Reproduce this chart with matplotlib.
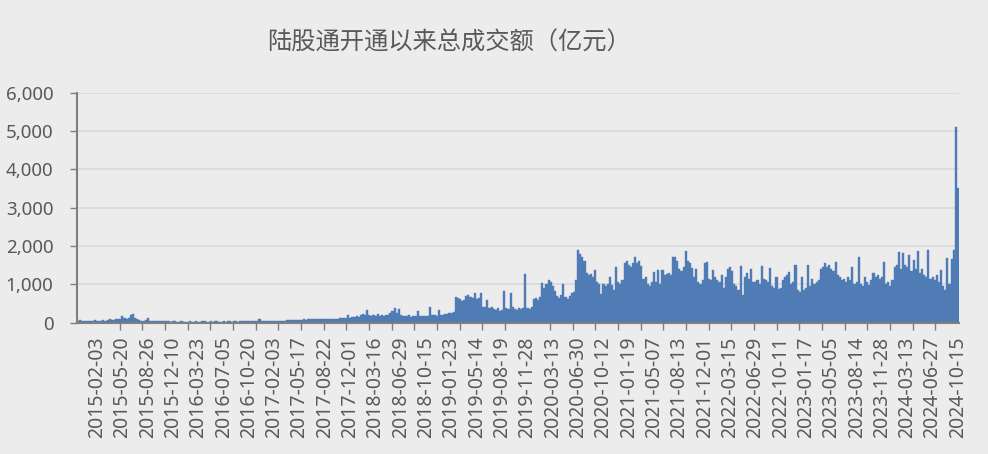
import numpy as np
import matplotlib.pyplot as plt
from matplotlib.ticker import FuncFormatter

# date labels on the category axis (one every 12 bars)
tick_dates = [
    '2015-02-03', '2015-05-20', '2015-08-26', '2015-12-10',
    '2016-03-23', '2016-07-05', '2016-10-20',
    '2017-02-03', '2017-05-17', '2017-08-22', '2017-12-01',
    '2018-03-16', '2018-06-29', '2018-10-15',
    '2019-01-23', '2019-05-14', '2019-08-19', '2019-11-28',
    '2020-03-13', '2020-06-30', '2020-10-12',
    '2021-01-19', '2021-05-07', '2021-08-13', '2021-12-01',
    '2022-03-15', '2022-06-29', '2022-10-11',
    '2023-01-17', '2023-05-05', '2023-08-14', '2023-11-28',
    '2024-03-13', '2024-06-27', '2024-10-15',
]

# turnover (100m yuan), one value per ~6 trading days
lead_in = [45, 78, 40, 35, 45, 40, 50, 45, 70]

from_2015 = [
    40, 45, 50, 60, 45, 70, 104, 80, 75, 90, 85, 95,
    165, 120, 100, 130, 190, 235, 110, 100, 55, 50, 45, 60,
    130, 45, 40, 50, 45, 40, 35, 40, 30, 35, 30, 28,
    30, 35, 28, 25, 30, 26, 28, 25, 30, 28, 25, 30,
]
from_2016 = [
    28, 25, 30, 35, 28, 25, 30, 28, 32, 30, 26, 28,
    30, 28, 32, 30, 26, 30, 35, 28, 30, 32, 35, 30,
    35, 30, 40, 35, 38, 104, 40, 35, 38, 30, 35, 40,
]
from_2017 = [
    35, 38, 40, 35, 40, 42, 65, 70, 75, 72, 80, 70,
    75, 80, 85, 78, 90, 82, 88, 95, 104, 90, 85, 92,
    90, 104, 92, 95, 100, 98, 105, 110, 120, 115, 130, 210,
    130, 150, 140, 160, 150, 200, 230, 210, 330, 200, 180, 190,
]
from_2018 = [
    170, 220, 180, 190, 170, 200, 190, 250, 290, 374, 260, 350,
    200, 170, 180, 160, 190, 150, 170, 180, 305, 170, 160, 180,
    180, 170, 400, 190, 200, 180, 330, 210, 200, 230, 220, 240,
]
from_2019 = [
    250, 280, 680, 640, 620, 560, 600, 700, 730, 680, 650, 780,
    620, 640, 780, 420, 400, 590, 380, 400, 360, 340, 370, 310,
    330, 825, 380, 350, 780, 400, 360, 340, 380, 350, 370, 1260,
    380, 360, 400, 620, 650, 600, 680, 1030, 900, 1000, 1120, 1050,
]
from_2020 = [
    950, 820, 700, 650, 720, 1010, 680, 620, 700, 760, 800, 1110,
    1900, 1800, 1700, 1600, 1300, 1250, 1280, 1200, 1370, 1050, 1000, 750,
    1000, 950, 1000, 1200, 980, 860, 1460, 1050, 1000, 1100, 1550, 1600,
]
from_2021 = [
    1500, 1460, 1550, 1700, 1550, 1600, 1480, 1150, 1200, 1000, 950, 1050,
    1330, 1050, 1370, 1000, 1370, 1250, 1280, 1300, 1250, 1700, 1720, 1600,
    1400, 1350, 1460, 1880, 1600, 1550, 1420, 1200, 1390, 1050, 1000, 1100,
    1550, 1590, 1150, 1100, 1370, 1200, 1100, 1050, 1250, 900, 1200, 1400,
]
from_2022 = [
    1460, 1350, 1000, 950, 850, 1480, 730, 1200, 1300, 1150, 1390, 1050,
    1050, 1100, 1000, 1490, 1150, 1100, 1050, 1420, 950, 900, 1200, 880,
    900, 1100, 1200, 1250, 1330, 1000, 1050, 1500, 850, 800, 1200, 850,
]
from_2023 = [
    900, 1500, 950, 1150, 1000, 1050, 1100, 1400, 1450, 1560, 1450, 1500,
    1400, 1350, 1570, 1250, 1200, 1100, 1150, 1050, 1200, 1100, 1460, 1000,
    1050, 1720, 1000, 950, 1200, 1050, 980, 1100, 1300, 1200, 1250, 1150,
    1200, 1570, 1000, 1050, 950, 1100, 1450, 1500, 1830, 1400, 1810, 1500,
]
from_2024 = [
    1450, 1770, 1350, 1630, 1400, 1870, 1300, 1400, 1250, 1200, 1900, 1150,
    1200, 1100, 1250, 1050, 1370, 950, 850, 1680, 1000, 1650, 1900, 5100,
    3500,
]

turnover = np.array(lead_in + from_2015 + from_2016 + from_2017 + from_2018
                    + from_2019 + from_2020 + from_2021 + from_2022
                    + from_2023 + from_2024, dtype=float)

per_label = 12
x = np.arange(len(turnover))
label_pos = len(lead_in) + per_label * np.arange(len(tick_dates))
mark_pos = np.linspace(label_pos[0], label_pos[-1], 39)

grey = '#595959'
axis_grey = '#7f7f7f'
bg = '#ececec'
blue = '#4f7cb5'

plt.rcParams['font.family'] = ['Noto Sans', 'Noto Sans CJK SC', 'DejaVu Sans']

fig = plt.figure(figsize=(9.88, 4.54), dpi=100, facecolor=bg)
ax = fig.add_axes([77 / 988, 131.4 / 454, 882 / 988, 229.9 / 454])
ax.set_facecolor(bg)

ax.bar(x, turnover, width=1.0, color=blue, edgecolor=blue, linewidth=0.3)

ax.set_xlim(-0.5, len(turnover) - 0.5)
ax.set_ylim(0, 6000)
ax.set_yticks(np.arange(0, 6001, 1000))
ax.yaxis.set_major_formatter(FuncFormatter(lambda v, p: f'{v:,.0f}'))
ax.grid(axis='y', color='#d9d9d9', linewidth=1.2)
ax.set_axisbelow(True)

ax.set_xticks(label_pos)
ax.set_xticklabels(tick_dates, rotation=90)
ax.set_xticks(mark_pos, minor=True)
ax.tick_params(axis='x', which='major', length=0, pad=10,
               labelsize=14, labelcolor=grey)
ax.tick_params(axis='x', which='minor', length=5, width=1, color=axis_grey)
ax.tick_params(axis='y', length=5, width=1, color=axis_grey, pad=12,
               labelsize=13.5, labelcolor=grey)

for s in ['top', 'right']:
    ax.spines[s].set_visible(False)
for s in ['left', 'bottom']:
    ax.spines[s].set_color(axis_grey)
    ax.spines[s].set_linewidth(1.5)

fig.text(449 / 988, 1 - 43 / 454, '陆股通开通以来总成交额（亿元）',
         ha='center', va='center', fontsize=17.5, color=grey,
         family=['Noto Sans CJK SC', 'DejaVu Sans'])

fig.savefig('out.png', dpi=100, facecolor=fig.get_facecolor())
